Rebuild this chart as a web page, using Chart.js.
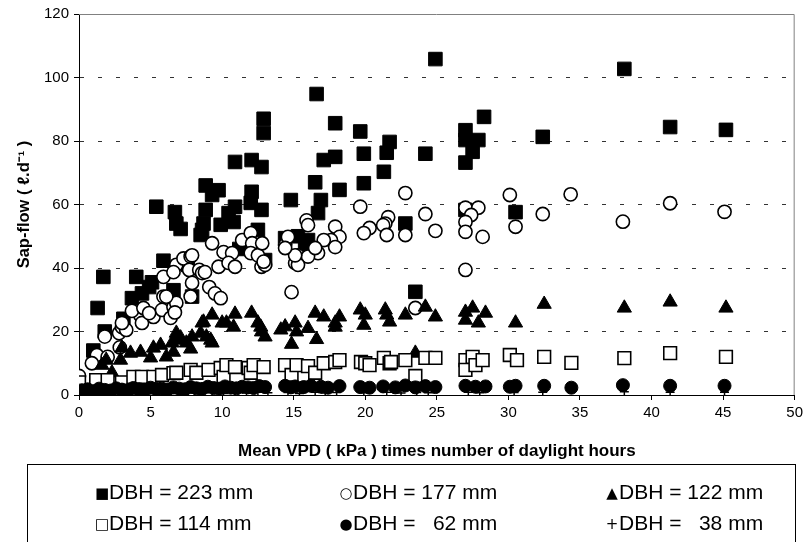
<!DOCTYPE html>
<html>
<head>
<meta charset="utf-8">
<script src="https://cdn.jsdelivr.net/npm/chart.js@4.4.1/dist/chart.umd.min.js"></script>
<style>
  body { margin: 0; background: #fff; }
  #wrap { position: relative; width: 807px; height: 542px; overflow: hidden; background: #fff; }
  #sapChart { position: absolute; left: 0; top: 0; }
  #legendBox { position: absolute; left: 27px; top: 464px; width: 769px; height: 100px;
    border: 1px solid #000; box-sizing: border-box; font-family: "Liberation Sans", Arial, sans-serif; }
  .item { position: absolute; font-size: 21px; white-space: pre; line-height: 24px; color: #000; }
  .mark { display: inline-block; width: 14px; text-align: center; font-family: "DejaVu Sans", sans-serif; font-size: 15px; vertical-align: 1px; }
</style>
</head>
<body>
<div id="wrap">
  <canvas id="sapChart" width="807" height="465"></canvas>
  <div id="legendBox"></div>
</div>
<script>
// series labels as in the legend
const seriesNames = ['DBH = 223 mm', 'DBH = 177 mm', 'DBH = 122 mm', 'DBH = 114 mm', 'DBH =   62 mm', 'DBH =   38 mm'];
const xTicks = [0, 5, 10, 15, 20, 25, 30, 35, 40, 45, 50];
const yTicks = [0, 20, 40, 60, 80, 100, 120];

// [x, y] pairs
const dbh223 = [
  [1.0, 14], [1.3, 27.4], [1.8, 20], [1.7, 37.2], [3.1, 24], [3.7, 30.5], [4.0, 37.2], [4.4, 32],
  [4.9, 34], [5.1, 35.5], [5.4, 59.3], [5.9, 42.3], [6.6, 33], [6.7, 57.6], [6.8, 54], [7.1, 52.3],
  [7.9, 31], [8.5, 50.4], [8.6, 52], [8.7, 54], [8.85, 58.3], [8.85, 66], [9.3, 63], [9.75, 64.5],
  [9.9, 53.6], [10.45, 57.3], [10.8, 54.5], [10.9, 59.3], [10.9, 73.4], [12.0, 60.5], [12.06, 64],
  [12.06, 74], [12.5, 52], [12.75, 58.3], [12.75, 71.8], [12.9, 82.5], [12.9, 87], [13.0, 42.5],
  [14.4, 49.4], [14.8, 61.4], [15.3, 50], [15.8, 46.6], [16.0, 48.8], [16.5, 67], [16.6, 94.8],
  [16.7, 57.3], [16.9, 61.4], [17.1, 74], [17.9, 75], [17.9, 85.6], [18.2, 64.6], [19.65, 83],
  [19.9, 66.7], [19.9, 76], [21.3, 70.3], [21.5, 76.3], [21.7, 79.7], [22.8, 54], [23.5, 32.5],
  [24.2, 76], [24.9, 105.8], [27.0, 58.3], [27.0, 73.2], [27.0, 80.3], [27.0, 83.4], [27.5, 76.6],
  [27.9, 80.3], [28.3, 87.6], [30.5, 57.6], [32.4, 81.3], [38.1, 102.7], [41.3, 84.4], [45.2, 83.5],
  [11.2, 46], [7.6, 41]
];
const dbh177 = [
  [1.8, 18.4], [1.25, 12.6], [0.9, 10], [2.0, 12], [0.0, 6.0], [2.85, 15], [2.8, 19.5], [3.0, 21.4],
  [3.3, 20.5], [3.0, 22.7], [4.3, 25], [3.7, 26.5], [4.4, 22.7], [5.2, 24.6], [5.8, 26.8], [6.4, 24.3],
  [6.6, 27.7], [5.9, 31], [6.8, 29], [6.8, 41], [5.9, 37.2], [6.6, 38.7], [4.5, 27.4], [4.9, 25.8],
  [6.1, 31], [6.7, 26], [7.3, 43], [7.8, 43.6], [7.7, 39.4], [7.9, 35.3], [7.8, 31], [7.9, 44],
  [8.4, 39.4], [8.6, 38.4], [8.8, 38.7], [9.1, 34], [9.3, 47.8], [9.5, 32], [9.9, 30.5], [9.75, 40.4],
  [10.1, 45], [10.7, 44.7], [10.45, 41.6], [10.9, 40.4], [11.4, 48.8], [12.0, 51], [12.1, 47.8],
  [12.0, 44.7], [12.5, 44], [12.8, 47.8], [12.75, 40.4], [13.0, 41], [12.9, 42], [14.4, 47.2],
  [14.6, 49.8], [14.85, 32.4], [15.3, 44], [15.1, 41.6], [15.9, 55], [16.0, 53.5], [17.9, 53],
  [18.2, 49.8], [17.6, 48.8], [17.9, 46.6], [17.1, 48.8], [16.7, 44.7], [16.0, 43.6], [16.5, 46.3],
  [15.3, 41], [15.1, 44], [14.4, 46.3], [22.8, 63.6], [19.65, 59.3], [24.2, 57], [21.6, 56],
  [21.4, 54], [20.3, 52.6], [19.9, 51], [21.25, 53.5], [21.5, 50.4], [22.8, 50.4], [24.9, 51.7],
  [27.0, 59], [27.9, 59], [27.4, 56.7], [27.0, 54.5], [27.0, 51.4], [28.2, 49.8], [27.0, 39.4],
  [30.1, 63], [30.5, 53], [23.5, 27.4], [32.4, 57], [34.35, 63.2], [38.0, 54.6], [41.3, 60.4],
  [45.1, 57.7]
];
const dbh122 = [
  [1.6, 9.4], [2.3, 7], [1.9, 11], [2.9, 11], [3.0, 14.8], [3.6, 13.2], [4.3, 13.5], [5.0, 11.7],
  [5.2, 14.8], [5.7, 15.7], [6.1, 12], [6.6, 13.5], [6.8, 17.3], [6.8, 19.5], [6.5, 16.4], [7.5, 16.4],
  [7.9, 18.3], [7.8, 14.5], [7.1, 18], [8.6, 22.7], [8.5, 19.5], [8.9, 18.3], [9.2, 17.3], [9.3, 16.4],
  [9.3, 25.2], [8.7, 23], [10.0, 22.7], [10.3, 22.7], [10.9, 25.5], [10.8, 21.4], [12.06, 25.8],
  [12.5, 22.7], [12.7, 21.4], [12.75, 19.9], [13.0, 18.3], [14.1, 20.5], [14.4, 21.5], [15.1, 22.7],
  [15.2, 19.9], [14.85, 16], [16.0, 21], [16.6, 17.5], [16.5, 25.8], [17.1, 24.6], [17.9, 22.7],
  [18.2, 24.6], [17.9, 21.4], [19.65, 26.8], [20.0, 25.2], [19.9, 22], [21.4, 26.8], [21.5, 25.2],
  [21.7, 23], [22.8, 25.2], [24.2, 27.7], [24.9, 24.6], [23.5, 13.2], [27.0, 26.1], [27.5, 27.4],
  [28.4, 25.8], [27.0, 23.6], [27.9, 22.7], [30.5, 22.7], [32.5, 28.6], [38.1, 27.4], [41.3, 29.3],
  [45.2, 27.4]
];
const dbh114 = [
  [0.0, 4], [1.2, 4.7], [2.0, 4.7], [3.0, 4], [3.8, 5.7], [4.4, 5.7], [5.2, 5.7], [5.8, 6.3],
  [6.6, 6.9], [6.8, 7], [7.8, 7.9], [8.2, 7], [9.05, 7.9], [9.9, 8.5], [10.1, 5.7], [10.3, 9.4],
  [10.9, 8.8], [11.85, 8.5], [12.0, 7], [12.2, 9.4], [12.9, 8.8], [14.4, 9.4], [14.85, 6.3],
  [15.2, 9.4], [16.0, 9.1], [16.5, 7], [17.1, 10], [17.9, 10.4], [18.2, 11], [19.7, 10.4], [20.0, 10],
  [20.3, 9.4], [21.3, 11.7], [21.7, 10], [21.8, 10.4], [22.8, 11], [23.5, 6], [24.2, 11.7],
  [24.9, 11.7], [27.0, 11], [27.0, 7.9], [27.5, 12], [27.7, 9.4], [28.2, 11], [30.1, 12.6],
  [30.6, 11], [32.5, 12], [34.4, 10.1], [38.1, 11.6], [41.3, 13.2], [45.2, 12]
];
const dbh62 = [
  [0.2, 1.5], [0.6, 1.8], [1.0, 1.2], [1.4, 2.0], [1.8, 1.6], [2.2, 1.4], [2.6, 2.1], [3.0, 1.7],
  [3.4, 1.5], [3.8, 2.2], [4.2, 1.8], [4.6, 1.6], [5.0, 2.3], [5.4, 1.9], [5.8, 2.0], [6.2, 1.7],
  [6.6, 2.4], [7.0, 2.0], [7.4, 1.8], [7.8, 2.5], [8.2, 2.1], [8.6, 1.9], [9.0, 2.6], [9.4, 2.2],
  [9.8, 2.0], [10.2, 2.7], [10.6, 2.3], [11.0, 2.1], [11.4, 2.6], [11.8, 2.4], [12.2, 2.2], [12.6, 2.8],
  [13.0, 2.5], [14.4, 2.9], [14.8, 2.4], [15.1, 2.7], [15.7, 2.5], [16.2, 2.9], [16.9, 2.6], [17.4, 2.3],
  [18.2, 2.8], [19.65, 2.5], [20.3, 2.3], [21.25, 2.7], [22.1, 2.4], [22.8, 3.0], [23.5, 2.4],
  [24.2, 2.8], [24.9, 2.5], [27.0, 2.9], [27.7, 2.6], [28.4, 2.7], [30.1, 2.6], [30.5, 2.9],
  [32.5, 2.9], [34.4, 2.3], [38.0, 3.1], [41.3, 2.9], [45.1, 2.9]
];
const dbh38 = [
  [0.5, 0.6], [1.3, 0.4], [2.1, 0.8], [2.9, 0.5], [3.6, 0.7], [4.3, 0.4], [5.2, 0.9], [6.0, 0.6],
  [6.9, 0.5], [7.6, 0.8], [8.4, 0.6], [9.3, 0.9], [10.1, 0.5], [10.9, 0.8], [11.7, 0.6], [12.5, 0.9],
  [13.2, 0.7], [14.6, 0.8], [15.4, 0.5], [16.5, 0.9], [17.2, 0.6], [18.0, 0.8], [19.9, 0.7],
  [21.5, 0.9], [22.5, 0.6], [23.6, 0.8], [24.4, 0.7], [27.2, 0.9], [28.0, 0.7], [30.4, 0.8],
  [32.4, 0.9], [38.1, 1.0], [41.3, 0.9], [45.1, 0.9]
];

const legendMarks = ['\u25A0', '\u25CB', '\u25B2', '\u25A1', '\u25CF', '+'];

function pts(arr) {
  return arr.map(p => ({ x: p[0], y: p[1] }));
}

// grey frame on the top and right of the plot area
const frame = {
  id: 'frame',
  beforeDatasetsDraw(chart) {
    const a = chart.chartArea;
    const c = chart.ctx;
    c.save();
    c.strokeStyle = '#808080';
    c.lineWidth = 1;
    c.beginPath();
    c.moveTo(a.left, a.top + 0.5);
    c.lineTo(a.right - 0.5, a.top + 0.5);
    c.lineTo(a.right - 0.5, a.bottom);
    c.stroke();
    c.restore();
  }
};

const font = 'Liberation Sans, Arial, sans-serif';

new Chart(document.getElementById('sapChart'), {
  type: 'scatter',
  data: {
    datasets: [
      { label: seriesNames[0], data: pts(dbh223), pointStyle: 'rect', pointRadius: 9.6, backgroundColor: '#000', borderColor: '#000', borderWidth: 1, order: 6 },
      { label: seriesNames[1], data: pts(dbh177), pointStyle: 'circle', pointRadius: 6.6, backgroundColor: '#fff', borderColor: '#000', borderWidth: 1.6, order: 5 },
      { label: seriesNames[2], data: pts(dbh122), pointStyle: 'triangle', pointRadius: 8.2, backgroundColor: '#000', borderColor: '#000', borderWidth: 1, order: 4 },
      { label: seriesNames[3], data: pts(dbh114), pointStyle: 'rect', pointRadius: 9, backgroundColor: '#fff', borderColor: '#000', borderWidth: 1.6, order: 3 },
      { label: seriesNames[4], data: pts(dbh62), pointStyle: 'circle', pointRadius: 6.5, backgroundColor: '#000', borderColor: '#000', borderWidth: 1, order: 2 },
      { label: seriesNames[5], data: pts(dbh38), pointStyle: 'cross', pointRadius: 4.5, backgroundColor: '#000', borderColor: '#000', borderWidth: 1.5, order: 1 }
    ]
  },
  options: {
    responsive: false,
    animation: false,
    events: [],
    layout: { padding: { top: 10, right: 10, left: 0, bottom: 0 } },
    plugins: { legend: { display: false }, tooltip: { enabled: false } },
    scales: {
      x: {
        type: 'linear',
        min: 0, max: 50,
        afterFit(scale) { scale.height = 70; },
        afterBuildTicks(scale) { scale.ticks = xTicks.map(v => ({ value: v })); },
        ticks: { color: '#000', font: { family: font, size: 15 }, padding: 4, maxRotation: 0 },
        grid: { drawOnChartArea: false, drawTicks: true, tickLength: 5, tickColor: '#000', tickBorderDash: [] },
        border: { color: '#000', width: 1 },
        title: { display: true, text: 'Mean VPD ( kPa ) times number of daylight hours', color: '#000',
          font: { family: font, size: 17, weight: 'bold' }, padding: { top: 0, bottom: 3 } }
      },
      y: {
        type: 'linear',
        min: 0, max: 120,
        afterFit(scale) { scale.width = 79; },
        afterBuildTicks(scale) { scale.ticks = yTicks.map(v => ({ value: v })); },
        ticks: { color: '#000', font: { family: font, size: 15 }, padding: 5 },
        grid: {
          color: ctx => (ctx.tick && (ctx.tick.value === 0 || ctx.tick.value === 120)) ? 'rgba(0,0,0,0)' : '#333',
          tickColor: '#000', tickLength: 5, tickBorderDash: []
        },
        border: { color: '#000', width: 1, dash: [4, 14] },
        title: { display: true, text: 'Sap-flow ( \u2113.d\u207B\u00B9 )', color: '#000',
          font: { family: font, size: 16.5, weight: 'bold' }, padding: { top: 15, bottom: 0 } }
      }
    }
  },
  plugins: [frame]
});

// boxed legend, two rows of three
const box = document.getElementById('legendBox');
const colX = [67, 311, 577];
const rowY = [15, 46];
seriesNames.forEach((name, i) => {
  const el = document.createElement('div');
  el.className = 'item';
  el.style.left = colX[i % 3] + 'px';
  el.style.top = rowY[Math.floor(i / 3)] + 'px';
  el.innerHTML = '<span class="mark">' + legendMarks[i] + '</span>' + name;
  box.appendChild(el);
});
</script>
</body>
</html>
